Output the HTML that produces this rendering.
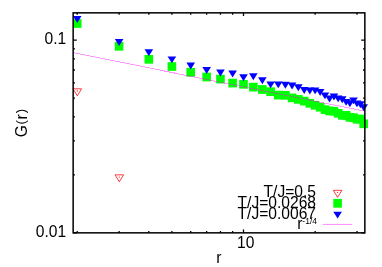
<!DOCTYPE html>
<html><head><meta charset="utf-8"><style>
html,body{margin:0;padding:0;background:#fff;}
body{width:382px;height:267px;position:relative;overflow:hidden;font-family:"Liberation Sans",sans-serif;font-size:15.6px;color:#000;}
svg{position:absolute;left:0;top:0;}
.t{position:absolute;white-space:nowrap;line-height:16px;height:16px;}
.r{text-align:right;}
.p{font-size:13.2px;position:relative;top:-1.6px;letter-spacing:0.8px;}
sup{font-size:8.5px;vertical-align:baseline;position:relative;top:-5.2px;line-height:0;}
#txt{position:absolute;left:0;top:0;width:382px;height:267px;filter:grayscale(1);}
</style></head><body>
<svg width="382" height="267" viewBox="0 0 382 267">
<g><path d="M77.22 232.85v-1.8M77.22 12.85v1.8" stroke="#000" stroke-width="1.3"/><path d="M119.11 232.85v-1.8M119.11 12.85v1.8" stroke="#000" stroke-width="1.3"/><path d="M148.83 232.85v-1.8M148.83 12.85v1.8" stroke="#000" stroke-width="1.3"/><path d="M171.88 232.85v-1.8M171.88 12.85v1.8" stroke="#000" stroke-width="1.3"/><path d="M190.72 232.85v-1.8M190.72 12.85v1.8" stroke="#000" stroke-width="1.3"/><path d="M206.65 232.85v-1.8M206.65 12.85v1.8" stroke="#000" stroke-width="1.3"/><path d="M220.45 232.85v-1.8M220.45 12.85v1.8" stroke="#000" stroke-width="1.3"/><path d="M232.61 232.85v-1.8M232.61 12.85v1.8" stroke="#000" stroke-width="1.3"/><path d="M315.12 232.85v-1.8M315.12 12.85v1.8" stroke="#000" stroke-width="1.3"/><path d="M357.01 232.85v-1.8M357.01 12.85v1.8" stroke="#000" stroke-width="1.3"/><path d="M243.50 232.85v-3.25M243.50 12.85v3.25" stroke="#000" stroke-width="1.3"/><path d="M73.15 174.84h1.8M364.85 174.84h-1.8" stroke="#000" stroke-width="1.3"/><path d="M73.15 140.91h1.8M364.85 140.91h-1.8" stroke="#000" stroke-width="1.3"/><path d="M73.15 116.83h1.8M364.85 116.83h-1.8" stroke="#000" stroke-width="1.3"/><path d="M73.15 98.16h1.8M364.85 98.16h-1.8" stroke="#000" stroke-width="1.3"/><path d="M73.15 82.90h1.8M364.85 82.90h-1.8" stroke="#000" stroke-width="1.3"/><path d="M73.15 70.00h1.8M364.85 70.00h-1.8" stroke="#000" stroke-width="1.3"/><path d="M73.15 58.82h1.8M364.85 58.82h-1.8" stroke="#000" stroke-width="1.3"/><path d="M73.15 48.97h1.8M364.85 48.97h-1.8" stroke="#000" stroke-width="1.3"/><path d="M73.15 40.15h3.6M364.85 40.15h-3.6" stroke="#000" stroke-width="1.3"/><path d="M73.15 232.85h3.6M364.85 232.85h-3.6" stroke="#000" stroke-width="1.3"/></g>
<g><polygon points="73.00,88.80 81.60,88.80 77.30,95.77" fill="none" stroke="#ff0000" stroke-width="0.85" stroke-opacity="0.9"/><circle cx="77.30" cy="90.95" r="0.6" fill="#ff0000"/><polygon points="115.00,174.85 123.60,174.85 119.30,181.82" fill="none" stroke="#ff0000" stroke-width="0.85" stroke-opacity="0.9"/><circle cx="119.30" cy="177.00" r="0.6" fill="#ff0000"/><rect x="72.92" y="19.15" width="8.60" height="8.70" fill="#00ff00"/><rect x="114.81" y="41.95" width="8.60" height="8.70" fill="#00ff00"/><rect x="144.53" y="54.95" width="8.60" height="8.70" fill="#00ff00"/><rect x="167.58" y="62.15" width="8.60" height="8.70" fill="#00ff00"/><rect x="186.42" y="67.95" width="8.60" height="8.70" fill="#00ff00"/><rect x="202.35" y="72.65" width="8.60" height="8.70" fill="#00ff00"/><rect x="216.15" y="74.75" width="8.60" height="8.70" fill="#00ff00"/><rect x="228.31" y="78.75" width="8.60" height="8.70" fill="#00ff00"/><rect x="239.20" y="79.95" width="8.60" height="8.70" fill="#00ff00"/><rect x="249.05" y="82.75" width="8.60" height="8.70" fill="#00ff00"/><rect x="258.04" y="85.15" width="8.60" height="8.70" fill="#00ff00"/><rect x="266.31" y="87.35" width="8.60" height="8.70" fill="#00ff00"/><rect x="273.96" y="90.75" width="8.60" height="8.70" fill="#00ff00"/><rect x="281.09" y="90.95" width="8.60" height="8.70" fill="#00ff00"/><rect x="287.76" y="93.55" width="8.60" height="8.70" fill="#00ff00"/><rect x="294.02" y="95.05" width="8.60" height="8.70" fill="#00ff00"/><rect x="299.93" y="96.75" width="8.60" height="8.70" fill="#00ff00"/><rect x="305.52" y="98.95" width="8.60" height="8.70" fill="#00ff00"/><rect x="310.82" y="100.95" width="8.60" height="8.70" fill="#00ff00"/><rect x="315.86" y="102.85" width="8.60" height="8.70" fill="#00ff00"/><rect x="320.66" y="105.35" width="8.60" height="8.70" fill="#00ff00"/><rect x="325.26" y="106.55" width="8.60" height="8.70" fill="#00ff00"/><rect x="329.65" y="106.95" width="8.60" height="8.70" fill="#00ff00"/><rect x="333.87" y="108.95" width="8.60" height="8.70" fill="#00ff00"/><rect x="337.92" y="110.95" width="8.60" height="8.70" fill="#00ff00"/><rect x="341.82" y="110.95" width="8.60" height="8.70" fill="#00ff00"/><rect x="345.58" y="112.95" width="8.60" height="8.70" fill="#00ff00"/><rect x="349.20" y="113.35" width="8.60" height="8.70" fill="#00ff00"/><rect x="352.71" y="114.90" width="8.60" height="8.70" fill="#00ff00"/><rect x="356.09" y="114.65" width="8.60" height="8.70" fill="#00ff00"/><rect x="359.38" y="119.45" width="8.60" height="8.70" fill="#00ff00"/><polygon points="72.92,16.10 81.52,16.10 77.22,23.07" fill="#0000ff"/><polygon points="114.81,39.00 123.41,39.00 119.11,45.97" fill="#0000ff"/><polygon points="144.53,49.30 153.13,49.30 148.83,56.27" fill="#0000ff"/><polygon points="167.58,56.40 176.18,56.40 171.88,63.37" fill="#0000ff"/><polygon points="186.42,62.45 195.02,62.45 190.72,69.42" fill="#0000ff"/><polygon points="202.35,67.00 210.95,67.00 206.65,73.97" fill="#0000ff"/><polygon points="216.15,69.45 224.75,69.45 220.45,76.42" fill="#0000ff"/><polygon points="228.31,70.50 236.91,70.50 232.61,77.47" fill="#0000ff"/><polygon points="239.20,74.20 247.80,74.20 243.50,81.17" fill="#0000ff"/><polygon points="249.05,73.30 257.65,73.30 253.35,80.27" fill="#0000ff"/><polygon points="258.04,77.30 266.64,77.30 262.34,84.27" fill="#0000ff"/><polygon points="266.31,81.40 274.91,81.40 270.61,88.37" fill="#0000ff"/><polygon points="273.96,81.40 282.56,81.40 278.26,88.37" fill="#0000ff"/><polygon points="281.09,81.70 289.69,81.70 285.39,88.67" fill="#0000ff"/><polygon points="287.76,82.60 296.36,82.60 292.06,89.57" fill="#0000ff"/><polygon points="294.02,84.20 302.62,84.20 298.32,91.17" fill="#0000ff"/><polygon points="299.93,87.10 308.53,87.10 304.23,94.07" fill="#0000ff"/><polygon points="305.52,87.50 314.12,87.50 309.82,94.47" fill="#0000ff"/><polygon points="310.82,87.40 319.42,87.40 315.12,94.37" fill="#0000ff"/><polygon points="315.86,89.10 324.46,89.10 320.16,96.07" fill="#0000ff"/><polygon points="320.66,92.40 329.26,92.40 324.96,99.37" fill="#0000ff"/><polygon points="325.26,95.60 333.86,95.60 329.56,102.57" fill="#0000ff"/><polygon points="329.65,93.50 338.25,93.50 333.95,100.47" fill="#0000ff"/><polygon points="333.87,95.40 342.47,95.40 338.17,102.37" fill="#0000ff"/><polygon points="337.92,96.30 346.52,96.30 342.22,103.27" fill="#0000ff"/><polygon points="341.82,98.90 350.42,98.90 346.12,105.87" fill="#0000ff"/><polygon points="345.58,100.30 354.18,100.30 349.88,107.27" fill="#0000ff"/><polygon points="349.20,97.40 357.80,97.40 353.50,104.37" fill="#0000ff"/><polygon points="352.71,100.40 361.31,100.40 357.01,107.37" fill="#0000ff"/><polygon points="356.09,101.30 364.69,101.30 360.39,108.27" fill="#0000ff"/><polygon points="359.38,104.30 367.98,104.30 363.68,111.27" fill="#0000ff"/><polygon points="333.30,190.35 341.90,190.35 337.60,197.32" fill="none" stroke="#ff0000" stroke-width="0.85" stroke-opacity="0.9"/><circle cx="337.60" cy="192.50" r="0.6" fill="#ff0000"/><rect x="333.30" y="198.95" width="8.60" height="8.70" fill="#00ff00"/><polygon points="333.30,211.65 341.90,211.65 337.60,218.62" fill="#0000ff"/><line x1="73.15" y1="52.65" x2="364.85" y2="111.25" stroke="#ff00ff" stroke-opacity="0.4" stroke-width="1" shape-rendering="crispEdges"/><line x1="322.9" y1="224.45" x2="352.2" y2="224.45" stroke="#ff00ff" stroke-opacity="0.42" stroke-width="1.1"/></g>
<g><rect x="73.15" y="12.85" width="291.70" height="220.00" fill="none" stroke="#000" stroke-width="1.5"/></g>
</svg>
<div id="txt">
<div class="t r" style="right:315.8px;top:31px;">0.1</div>
<div class="t r" style="right:315.8px;top:224px;">0.01</div>
<div class="t" style="left:237px;top:234.5px;">10</div>
<div class="t" style="left:216.3px;top:249.5px;">r</div>
<div class="t" style="left:6px;top:114.5px;width:32px;text-align:center;transform:rotate(-90deg);transform-origin:50% 50%;">G<span class="p" style="margin-left:0.5px">(</span>r<span class="p" style="margin-left:1px;letter-spacing:0">)</span></div>
<div class="t r" style="right:66px;top:183.7px;">T/J=0.5</div>
<div class="t r" style="right:66px;top:194.6px;">T/J=0.0268</div>
<div class="t r" style="right:66px;top:205.5px;">T/J=0.0067</div>
<div class="t r" style="right:65px;top:216.3px;">r<sup>-1/4</sup></div>
</div>
</body></html>
